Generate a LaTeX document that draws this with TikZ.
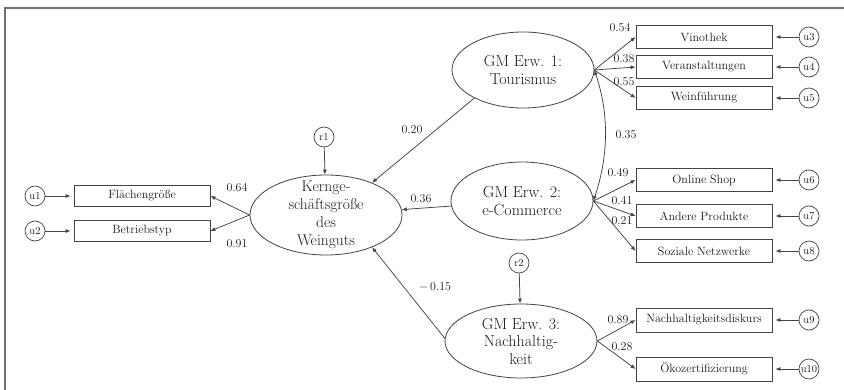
\documentclass[tikz,border=0pt]{standalone}
\usetikzlibrary{shapes.geometric,arrows.meta}
\definecolor{linec}{HTML}{444444}
\definecolor{textc}{HTML}{1A1A1A}
\definecolor{framec}{HTML}{707070}
\begin{document}
\begin{tikzpicture}[x=1pt,y=-1pt,
  every node/.style={text=textc},
  latent/.style={ellipse, draw=linec, line width=0.8pt, inner sep=0pt},
  lattext/.style={align=center, font=\fontsize{16}{17.5}\selectfont, inner sep=0pt},
  obs/.style={rectangle, draw=linec, line width=0.8pt, minimum width=136pt, minimum height=23pt, inner sep=0pt, font=\fontsize{12}{13}\selectfont},
  err/.style={circle, draw=linec, line width=0.7pt, minimum size=20pt, inner sep=0.5pt, font=\fontsize{10.5}{11}\selectfont},
  pth/.style={draw=linec, line width=0.75pt, -{Latex[length=5pt,width=4pt]}},
  dpth/.style={draw=linec, line width=0.75pt, {Latex[length=5pt,width=4pt]}-{Latex[length=5pt,width=4pt]}},
  epth/.style={pth, shorten >=3pt},
  coef/.style={font=\fontsize{12}{13}\selectfont, inner sep=0pt}
]
\useasboundingbox (0,0) rectangle (844,390);
\fill[white] (0,0) rectangle (844,390);
\draw[framec, line width=1.6pt] (5,390) -- (5,8) -- (844,8);

% latent variables
\node[latent, minimum width=152pt, minimum height=80pt,
  label={[lattext, font=\fontsize{15.5}{18}\selectfont]center:{Kernge-\\schäftsgröße\\des\\Weinguts}}] (kern) at (326,215) {};
\node[latent, minimum width=142pt, minimum height=76pt,
  label={[lattext]center:{GM Erw. 1:\\Tourismus}}] (gm1) at (523,70) {};
\node[latent, minimum width=142pt, minimum height=78pt,
  label={[lattext]center:{GM Erw. 2:\\e-Commerce}}] (gm2) at (522,201) {};
\node[latent, minimum width=152pt, minimum height=74pt,
  label={[lattext]center:{GM Erw. 3:\\Nachhaltig-\\keit}}] (gm3) at (521,341) {};

% residuals of latents
\node[err] (r1) at (324,137) {r1};
\node[err] (r2) at (519,263) {r2};

% left indicators
\node[obs, minimum height=21pt] (fl) at (142,196) {Flächengröße};
\node[obs, minimum height=21pt] (bt) at (142,231) {Betriebstyp};
\node[err] (u1) at (35,196) {u1};
\node[err] (u2) at (35,231) {u2};

% right indicators
\node[obs] (vin) at (704,37) {Vinothek};
\node[obs] (ver) at (704,67) {Veranstaltungen};
\node[obs] (wei) at (704,98) {Weinführung};
\node[obs] (shop) at (704,180) {Online Shop};
\node[obs] (and) at (704,216) {Andere Produkte};
\node[obs] (soz) at (704,251) {Soziale Netzwerke};
\node[obs, minimum height=24pt] (nach) at (704,320) {Nachhaltigkeitsdiskurs};
\node[obs, minimum height=24pt] (oko) at (704,369) {Ökozertifizierung};

\node[err] (u3) at (809,37) {u3};
\node[err] (u4) at (809,67) {u4};
\node[err] (u5) at (809,98) {u5};
\node[err] (u6) at (809,180) {u6};
\node[err] (u7) at (809,216) {u7};
\node[err] (u8) at (809,251) {u8};
\node[err] (u9) at (809,320) {u9};
\node[err] (u10) at (809,369) {u10};

% structural paths
\draw[pth] (gm1.210) -- (kern.35);
\draw[pth] (gm2) -- (kern);
\draw[pth] (gm3.178) -- (kern.325);
\draw[pth] (r1) -- (kern);
\draw[pth] (r2) -- (gm3);
\draw[dpth] (gm1.east) .. controls +(15,45) and +(15,-45) .. (gm2.east);

% measurement paths
\draw[pth] (kern.west) -- (fl.east);
\draw[pth] (kern.west) -- (bt.east);
\foreach \b in {vin,ver,wei} \draw[pth] (gm1.east) -- (\b.west);
\foreach \b in {shop,and,soz} \draw[pth] (gm2.east) -- (\b.west);
\foreach \b in {nach,oko} \draw[pth] (gm3.east) -- (\b.west);

% error paths
\draw[epth] (u1) -- (fl);
\draw[epth] (u2) -- (bt);
\draw[epth] (u3) -- (vin);
\draw[epth] (u4) -- (ver);
\draw[epth] (u5) -- (wei);
\draw[epth] (u6) -- (shop);
\draw[epth] (u7) -- (and);
\draw[epth] (u8) -- (soz);
\draw[epth] (u9) -- (nach);
\draw[epth] (u10) -- (oko);

% coefficients
\node[coef] (c20) at (412,130) {0.20};
\node[coef] (c36) at (421,199) {0.36};
\node[coef] (c15) at (435,287) {$-$\,0.15};
\node[coef] (c35) at (626,135) {0.35};
\node[coef] (c64) at (237,188) {0.64};
\node[coef] (c91) at (237,244) {0.91};
\node[coef] (c54) at (620,28) {0.54};
\node[coef] (c38) at (624,59) {0.38};
\node[coef] (c55) at (624,82) {0.55};
\node[coef] (c49) at (618,173) {0.49};
\node[coef] (c41) at (622,201) {0.41};
\node[coef] (c21) at (622,221) {0.21};
\node[coef] (c89) at (618,320) {0.89};
\node[coef] (c28) at (622,347) {0.28};
\end{tikzpicture}
\end{document}
